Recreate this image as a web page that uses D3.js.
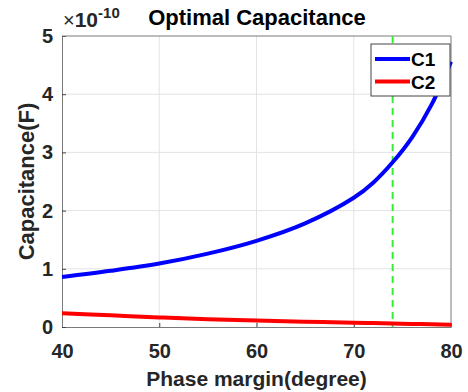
<!DOCTYPE html>
<html>
<head>
<meta charset="utf-8">
<script src="https://cdn.jsdelivr.net/npm/d3@7"></script>
<style>
  body { margin: 0; background: #fff; }
  svg { display: block; font-family: "Liberation Sans", Arial, sans-serif; }
</style>
</head>
<body>
<svg width="468" height="392"></svg>
<script>
// phase margin (degree) and capacitances in units of 1e-10 F
const phaseMargin = [40, 45, 50, 55, 60, 65, 70, 72, 74, 76, 78, 80]
const c1Values = [0.86, 0.965, 1.09, 1.26, 1.48, 1.78, 2.22, 2.48, 2.83, 3.26, 3.82, 4.56]
const c2Values = [0.235, 0.2, 0.165, 0.135, 0.11, 0.09, 0.075, 0.068, 0.06, 0.053, 0.046, 0.04]
const xTicks = [40, 50, 60, 70, 80]
const yTicks = [0, 1, 2, 3, 4, 5]
const markerPhase = 74
const seriesNames = ['C1', 'C2']
const seriesColors = ['#0000ff', '#ff0000']

const svg = d3.select('svg')
const plotLeft = 62, plotRight = 451, plotTop = 36, plotBottom = 327
const font = '"Liberation Sans", Arial, sans-serif'

const x = d3.scaleLinear().domain([40, 80]).range([plotLeft, plotRight])
const y = d3.scaleLinear().domain([0, 5]).range([plotBottom, plotTop])

// grid
const grid = svg.append('g').attr('class', 'grid')
grid.selectAll('line.gx').data(xTicks.slice(1, -1)).join('line')
    .attr('x1', d => x(d)).attr('x2', d => x(d))
    .attr('y1', plotTop).attr('y2', plotBottom)
    .attr('stroke', '#e3e3e3').attr('stroke-width', 1)
grid.selectAll('line.gy').data(yTicks.slice(1, -1)).join('line')
    .attr('x1', plotLeft).attr('x2', plotRight)
    .attr('y1', d => y(d)).attr('y2', d => y(d))
    .attr('stroke', '#e3e3e3').attr('stroke-width', 1)

// axes
const xAxis = d3.axisBottom(x).tickValues(xTicks).tickFormat(d3.format('d'))
    .tickSize(-4).tickSizeOuter(0).tickPadding(17)
const yAxis = d3.axisLeft(y).tickValues(yTicks).tickFormat(d3.format('d'))
    .tickSize(-4).tickSizeOuter(0).tickPadding(9)

const gx = svg.append('g').attr('transform', `translate(0,${plotBottom})`).call(xAxis)
const gy = svg.append('g').attr('transform', `translate(${plotLeft},0)`).call(yAxis)

for (const g of [gx, gy]) {
    g.select('.domain').attr('stroke', '#7a7a7a')
    g.selectAll('.tick line').attr('stroke', '#444')
    g.selectAll('.tick text')
        .attr('fill', '#262626')
        .attr('font-size', 20)
        .attr('font-weight', 'bold')
        .attr('font-family', font)
}

// box top/right
svg.append('line').attr('x1', plotLeft).attr('x2', plotRight).attr('y1', plotTop).attr('y2', plotTop).attr('stroke', '#7a7a7a')
svg.append('line').attr('x1', plotRight).attr('x2', plotRight).attr('y1', plotTop).attr('y2', plotBottom).attr('stroke', '#7a7a7a')

// marker line
svg.append('line')
    .attr('x1', x(markerPhase)).attr('x2', x(markerPhase))
    .attr('y1', plotTop).attr('y2', plotBottom)
    .attr('stroke', '#33ee33').attr('stroke-width', 2)
    .attr('stroke-dasharray', '7,5')

// curves
const line = d3.line().curve(d3.curveCatmullRom.alpha(0.5))
const series = [c1Values, c2Values]
series.forEach((vals, i) => {
    svg.append('path')
        .attr('d', line(vals.map((v, j) => [x(phaseMargin[j]), y(v)])))
        .attr('fill', 'none')
        .attr('stroke', seriesColors[i])
        .attr('stroke-width', 4)
})

// legend
const legend = svg.append('g').attr('class', 'legend-container')
legend.append('rect')
    .attr('x', 371).attr('y', 44).attr('width', 79).attr('height', 52)
    .attr('fill', '#fff').attr('stroke', '#444').attr('stroke-width', 1)
seriesNames.forEach((name, i) => {
    const ly = 59 + i * 22.5
    legend.append('line')
        .attr('x1', 375).attr('x2', 410).attr('y1', ly).attr('y2', ly)
        .attr('stroke', seriesColors[i]).attr('stroke-width', 4)
    legend.append('text')
        .attr('x', 411).attr('y', ly + 7)
        .attr('font-size', 19).attr('font-weight', 'bold').attr('fill', '#000')
        .attr('font-family', font)
        .text(name)
})

// title and exponent
svg.append('text')
    .attr('x', 257).attr('y', 25)
    .attr('text-anchor', 'middle')
    .attr('font-size', 22).attr('font-weight', 'bold').attr('fill', '#000')
    .text('Optimal Capacitance')

const expo = svg.append('text').attr('x', 63).attr('y', 27).attr('fill', '#262626')
expo.append('tspan').attr('font-size', 20).text('×')
expo.append('tspan').attr('font-size', 21).attr('font-weight', 'bold').text('10')
expo.append('tspan').attr('dy', -9).attr('font-size', 15).attr('font-weight', 'bold').text('-10')

// axis labels
svg.append('text')
    .attr('x', (plotLeft + plotRight) / 2).attr('y', 386)
    .attr('text-anchor', 'middle')
    .attr('font-size', 21).attr('font-weight', 'bold').attr('fill', '#262626')
    .text('Phase margin(degree)')

svg.append('text')
    .attr('transform', `translate(34, ${(plotTop + plotBottom) / 2}) rotate(-90)`)
    .attr('text-anchor', 'middle')
    .attr('font-size', 22).attr('font-weight', 'bold').attr('fill', '#262626')
    .text('Capacitance(F)')
</script>
</body>
</html>
